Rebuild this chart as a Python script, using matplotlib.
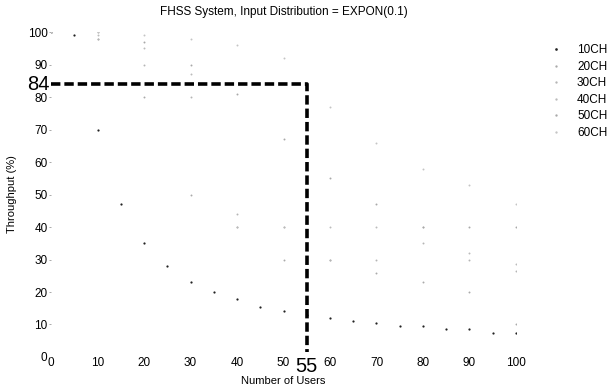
import numpy as np
import matplotlib.pyplot as plt

plt.rcParams['font.family'] = ['Liberation Sans', 'DejaVu Sans']

# number of users
users_fine = [0, 5, 10, 15, 20, 25, 30, 35, 40, 45, 50, 55, 60, 65, 70, 75, 80, 85, 90, 95, 100]
users = [0, 10, 20, 30, 40, 50, 60, 70, 80, 90, 100]

# throughput (%), roughly
ch10 = [100, 99, 70, 47, 35, 28, 23, 20, 18, 15.5, 14, 13, 12, 11, 10.5, 9.5, 9.5, 8.5, 8.5, 7.5, 7.5]
ch20 = [100, 98, 80, 50, 40, 30, 30, 26, 23, 20, 10]
ch30 = [100, 98, 90, 80, 44, 40, 30, 30, 35, 30, 26.5]
ch40 = [100, 99, 95, 87, 40, 40, 40, 40, 40, 32, 28.5]
ch50 = [100, 100, 97, 90, 81, 67, 55, 47, 40, 40, 40]
ch60 = [100, 100, 99, 98, 96, 92, 77, 66, 58, 53, 47]

labels = ['10CH', '20CH', '30CH', '40CH', '50CH', '60CH']
mark_x = 55
mark_y = 84

fig = plt.figure(figsize=(6.11, 3.92), dpi=100)
ax = fig.add_axes([0.0835, 0.0893, 0.761, 0.829])

ax.plot(users_fine, ch10, ls='none', marker='o', ms=1.6, mew=0, color='#222222', label=labels[0])
series = [ch20, ch30, ch40, ch50, ch60]
greys = ['#aaaaaa', '#b5b5b5', '#bbbbbb', '#a8a8a8', '#c4c4c4']
for s, lab, c in zip(series, labels[1:], greys):
    ax.plot(users, s, ls='none', marker='o', ms=1.4, mew=0, color=c, label=lab)

# operating point marker
ax.plot([0, mark_x, mark_x], [mark_y, mark_y, 1.5], color='black', lw=2.6,
        ls=(0, (2.6, 1.1)), solid_capstyle='butt', clip_on=False)
ax.text(-0.3, mark_y, str(mark_y), fontsize=14.5, ha='right', va='center', clip_on=False)
ax.text(mark_x, -3.0, str(mark_x), fontsize=14.5, ha='center', va='center', clip_on=False)

ax.set_xlim(0, 100)
ax.set_ylim(0, 100)
ax.set_xticks(np.arange(0, 101, 10))
ax.set_yticks(np.arange(0, 101, 10))
for sp in ax.spines.values():
    sp.set_visible(False)
ax.tick_params(axis='both', length=1.5, width=0.5, color='#888888', labelsize=8.5, pad=1)
ax.tick_params(axis='x', length=0, pad=0)

ax.set_title('FHSS System, Input Distribution = EXPON(0.1)', fontsize=8.5, pad=12)
ax.set_xlabel('Number of Users', fontsize=8, labelpad=5)
ax.set_ylabel('Throughput (%)', fontsize=8, labelpad=8)

leg = ax.legend(loc='upper left', bbox_to_anchor=(1.05, 0.995), frameon=False,
                handlelength=1.0, handletextpad=1.3, labelspacing=0.38, fontsize=8.5,
                markerscale=1.2)

fig.savefig('out.png', dpi=100)
